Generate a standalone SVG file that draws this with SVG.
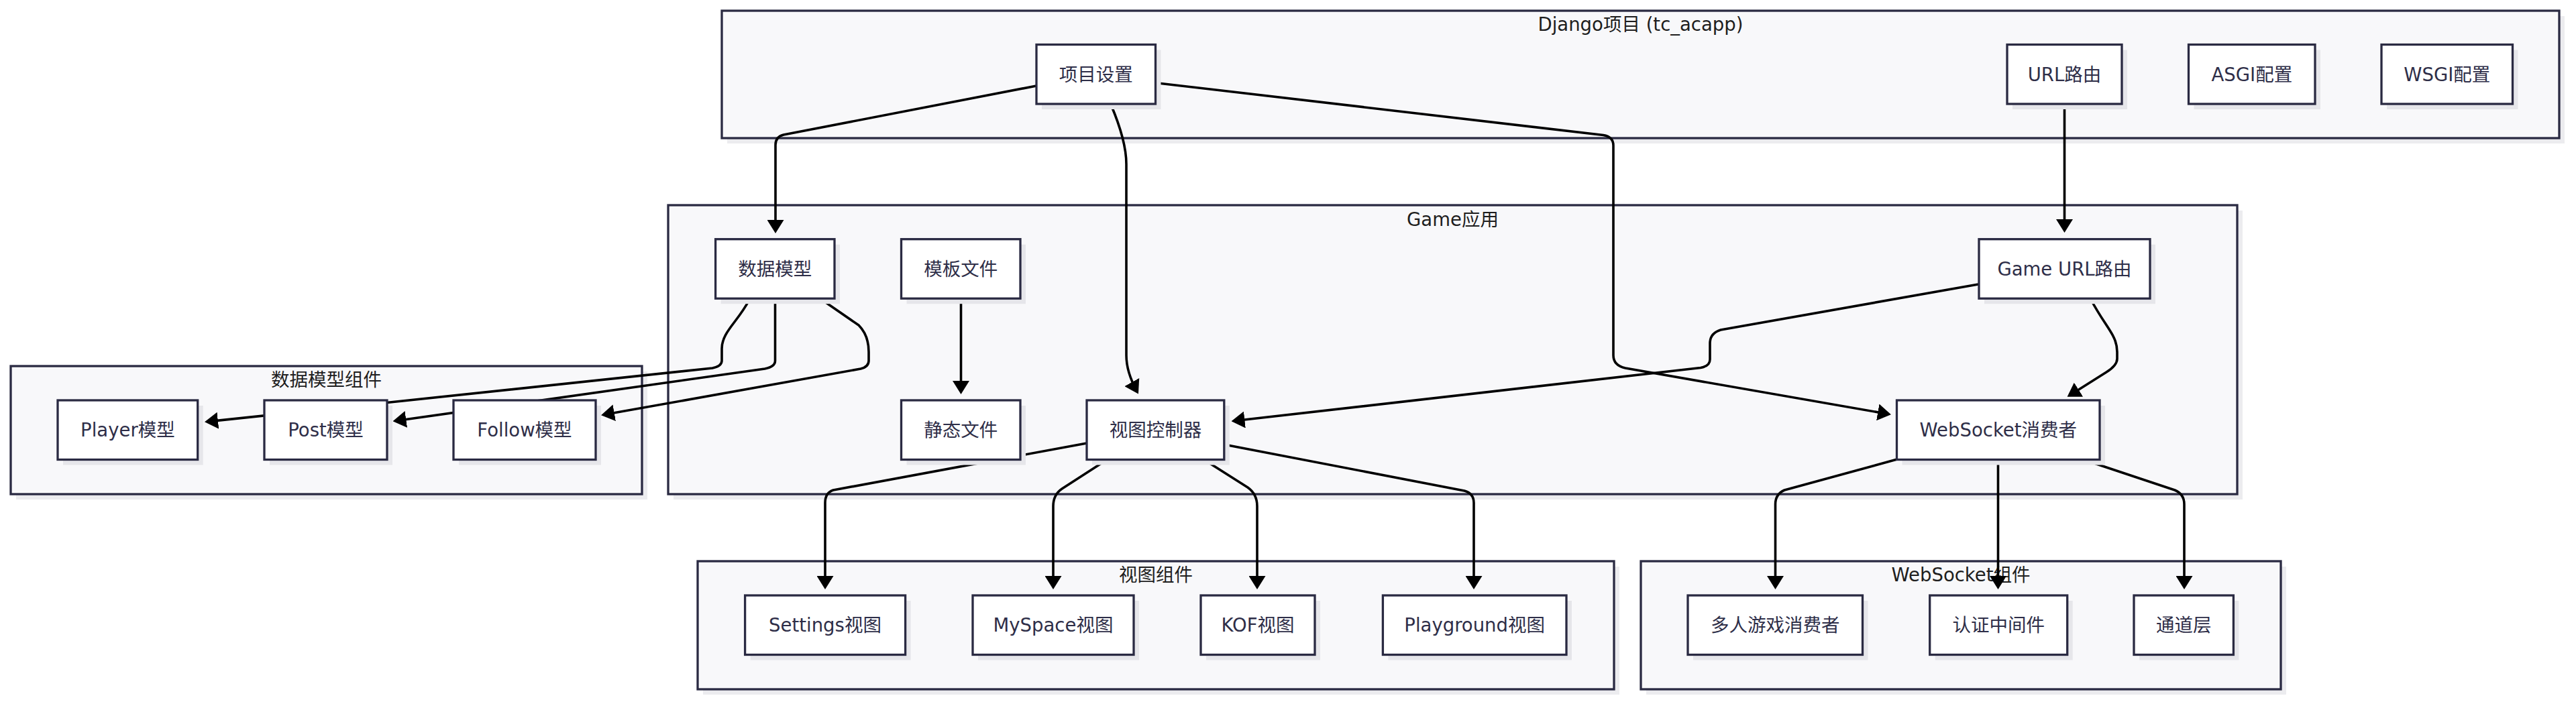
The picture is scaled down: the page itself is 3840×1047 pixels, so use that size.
<svg xmlns="http://www.w3.org/2000/svg" width="3840" height="1047" viewBox="0 0 3840 1047">
<defs>
<style>
.bg{fill:#ffffff}
.csh{fill:#ececef}
.cl{fill:#f8f8fa;stroke:#2a2a42;stroke-width:3.3}
.ct{font-family:"DejaVu Sans","Noto Sans CJK SC",sans-serif;font-size:27.5px;fill:#1e1e1e;text-anchor:middle}
.nsh{fill:#e6e6ea}
.nd{fill:#ffffff;stroke:#2a2a42;stroke-width:3.3}
.nt{font-family:"DejaVu Sans","Noto Sans CJK SC",sans-serif;font-size:27.5px;fill:#2e2e48;text-anchor:middle}
.ed{fill:none;stroke:#000000;stroke-width:3.6;stroke-linejoin:round;marker-end:url(#arr)}
</style>
<marker id="arr" markerUnits="userSpaceOnUse" markerWidth="20" markerHeight="25" viewBox="0 0 20 25" refX="16" refY="12.5" orient="auto">
<path d="M0,0 L20,12.5 L0,25 z" fill="#000000"/>
</marker>
</defs>
<rect class="bg" x="0" y="0" width="3840" height="1047"/>

<g id="clusters">
<g id="cluster-django">
<rect class="csh" x="1084" y="24" width="2739" height="190"/>
<rect class="cl" x="1076" y="16" width="2739" height="190"/>
<text class="ct" x="2445.5" y="46">Django项目 (tc_acapp)</text>
</g>
<g id="cluster-game">
<rect class="csh" x="1004" y="314" width="2339" height="431"/>
<rect class="cl" x="996" y="306" width="2339" height="431"/>
<text class="ct" x="2165.5" y="337">Game应用</text>
</g>
<g id="cluster-models">
<rect class="csh" x="24" y="554" width="941" height="191"/>
<rect class="cl" x="16" y="546" width="941" height="191"/>
<text class="ct" x="486.5" y="576">数据模型组件</text>
</g>
<g id="cluster-views">
<rect class="csh" x="1048" y="845" width="1366" height="191"/>
<rect class="cl" x="1040" y="837" width="1366" height="191"/>
<text class="ct" x="1723" y="867">视图组件</text>
</g>
<g id="cluster-ws">
<rect class="csh" x="2454" y="845" width="954" height="191"/>
<rect class="cl" x="2446" y="837" width="954" height="191"/>
<text class="ct" x="2923" y="867">WebSocket组件</text>
</g>
</g>

<g id="connectors">
<path class="ed" d="M1545,128 L1168,201 Q1156,204 1156,216 L1156,344"/>
<path class="ed" d="M1656,156 Q1679,210 1679,245 L1679,530 Q1679,555 1695,584"/>
<path class="ed" d="M1722,123.5 L2390,201.5 Q2405,204 2405,217 L2405,530 Q2405,545 2423,549 L2815,617.6"/>
<path class="ed" d="M3077.5,156 L3077.5,343"/>
<path class="ed" d="M1432.5,446 L1432.5,584"/>
<path class="ed" d="M1117,447 C1100,480 1076,495 1076,520 L1076,538 Q1076,546 1062,549 L309,628.9"/>
<path class="ed" d="M1155.5,446 L1155.5,538 Q1155.5,547 1140,550 L589.5,627.7"/>
<path class="ed" d="M1225,447 L1280,485 Q1295,500 1295,525 L1295,538 Q1295,547 1283,550 L900,618.6"/>
<path class="ed" d="M1620,661 L1242,731 Q1230,735 1230,750 L1230,875"/>
<path class="ed" d="M1648,687 L1583,729 Q1570,738 1570,755 L1570,875"/>
<path class="ed" d="M1797,687 L1860,727 Q1874,737 1874,755 L1874,875"/>
<path class="ed" d="M1825,663 L2183,732 Q2197,736 2197,750 L2197,875"/>
<path class="ed" d="M2949,424 L2565,492 Q2549,497 2549,512 L2549,536 Q2549,546 2535,548.5 L1839.5,627.8"/>
<path class="ed" d="M3117,447 C3140,490 3156,500 3156,525 L3156,535 Q3156,545 3140,555 L3085,589.7"/>
<path class="ed" d="M2828,685 L2660,731 Q2646.5,737 2646.5,752 L2646.5,875"/>
<path class="ed" d="M2978.5,687 L2978.5,875"/>
<path class="ed" d="M3110,687 L3242,731 Q3256,737 3256,752 L3256,875"/>
</g>

<g id="nodes">
<g id="n-settings"><rect class="nsh" x="1553" y="74.5" width="177.5" height="88.5"/><rect class="nd" x="1545" y="66.5" width="177.5" height="88.5"/><text class="nt" x="1633.8" y="120.5">项目设置</text></g>
<g id="n-urls"><rect class="nsh" x="3000" y="74.5" width="171" height="88.5"/><rect class="nd" x="2992" y="66.5" width="171" height="88.5"/><text class="nt" x="3077.5" y="120.5">URL路由</text></g>
<g id="n-asgi"><rect class="nsh" x="3270.5" y="74.5" width="188.5" height="88.5"/><rect class="nd" x="3262.5" y="66.5" width="188.5" height="88.5"/><text class="nt" x="3356.8" y="120.5">ASGI配置</text></g>
<g id="n-wsgi"><rect class="nsh" x="3558" y="74.5" width="195.5" height="88.5"/><rect class="nd" x="3550" y="66.5" width="195.5" height="88.5"/><text class="nt" x="3647.8" y="120.5">WSGI配置</text></g>

<g id="n-models"><rect class="nsh" x="1074.6" y="364.7" width="177.4" height="88.5"/><rect class="nd" x="1066.6" y="356.7" width="177.4" height="88.5"/><text class="nt" x="1155.3" y="411">数据模型</text></g>
<g id="n-templates"><rect class="nsh" x="1351.5" y="364.7" width="177.5" height="88.5"/><rect class="nd" x="1343.5" y="356.7" width="177.5" height="88.5"/><text class="nt" x="1432.3" y="411">模板文件</text></g>
<g id="n-gameurls"><rect class="nsh" x="2958" y="364.7" width="255" height="88.5"/><rect class="nd" x="2950" y="356.7" width="255" height="88.5"/><text class="nt" x="3077.5" y="411">Game URL路由</text></g>
<g id="n-static"><rect class="nsh" x="1351.5" y="605" width="177.5" height="88.5"/><rect class="nd" x="1343.5" y="597" width="177.5" height="88.5"/><text class="nt" x="1432.3" y="651">静态文件</text></g>
<g id="n-views"><rect class="nsh" x="1628" y="605" width="204.8" height="88.5"/><rect class="nd" x="1620" y="597" width="204.8" height="88.5"/><text class="nt" x="1722.4" y="651">视图控制器</text></g>
<g id="n-consumer"><rect class="nsh" x="2835.5" y="605" width="302.5" height="88.5"/><rect class="nd" x="2827.5" y="597" width="302.5" height="88.5"/><text class="nt" x="2978.8" y="651">WebSocket消费者</text></g>

<g id="n-player"><rect class="nsh" x="94" y="605" width="208.7" height="88.5"/><rect class="nd" x="86" y="597" width="208.7" height="88.5"/><text class="nt" x="190.4" y="651">Player模型</text></g>
<g id="n-post"><rect class="nsh" x="402" y="605" width="183" height="88.5"/><rect class="nd" x="394" y="597" width="183" height="88.5"/><text class="nt" x="485.5" y="651">Post模型</text></g>
<g id="n-follow"><rect class="nsh" x="684" y="605" width="212" height="88.5"/><rect class="nd" x="676" y="597" width="212" height="88.5"/><text class="nt" x="782" y="651">Follow模型</text></g>

<g id="n-settingsview"><rect class="nsh" x="1118.6" y="896" width="239" height="88.5"/><rect class="nd" x="1110.6" y="888" width="239" height="88.5"/><text class="nt" x="1230" y="942">Settings视图</text></g>
<g id="n-myspace"><rect class="nsh" x="1458" y="896" width="240" height="88.5"/><rect class="nd" x="1450" y="888" width="240" height="88.5"/><text class="nt" x="1570" y="942">MySpace视图</text></g>
<g id="n-kof"><rect class="nsh" x="1798" y="896" width="170" height="88.5"/><rect class="nd" x="1790" y="888" width="170" height="88.5"/><text class="nt" x="1875" y="942">KOF视图</text></g>
<g id="n-playground"><rect class="nsh" x="2069.4" y="896" width="273.6" height="88.5"/><rect class="nd" x="2061.4" y="888" width="273.6" height="88.5"/><text class="nt" x="2198.2" y="942">Playground视图</text></g>

<g id="n-multi"><rect class="nsh" x="2524" y="896" width="260.5" height="88.5"/><rect class="nd" x="2516" y="888" width="260.5" height="88.5"/><text class="nt" x="2646.3" y="942">多人游戏消费者</text></g>
<g id="n-auth"><rect class="nsh" x="2884.7" y="896" width="205" height="88.5"/><rect class="nd" x="2876.7" y="888" width="205" height="88.5"/><text class="nt" x="2979.2" y="942">认证中间件</text></g>
<g id="n-channels"><rect class="nsh" x="3189" y="896" width="148.4" height="88.5"/><rect class="nd" x="3181" y="888" width="148.4" height="88.5"/><text class="nt" x="3255.2" y="942">通道层</text></g>
</g>
</svg>
